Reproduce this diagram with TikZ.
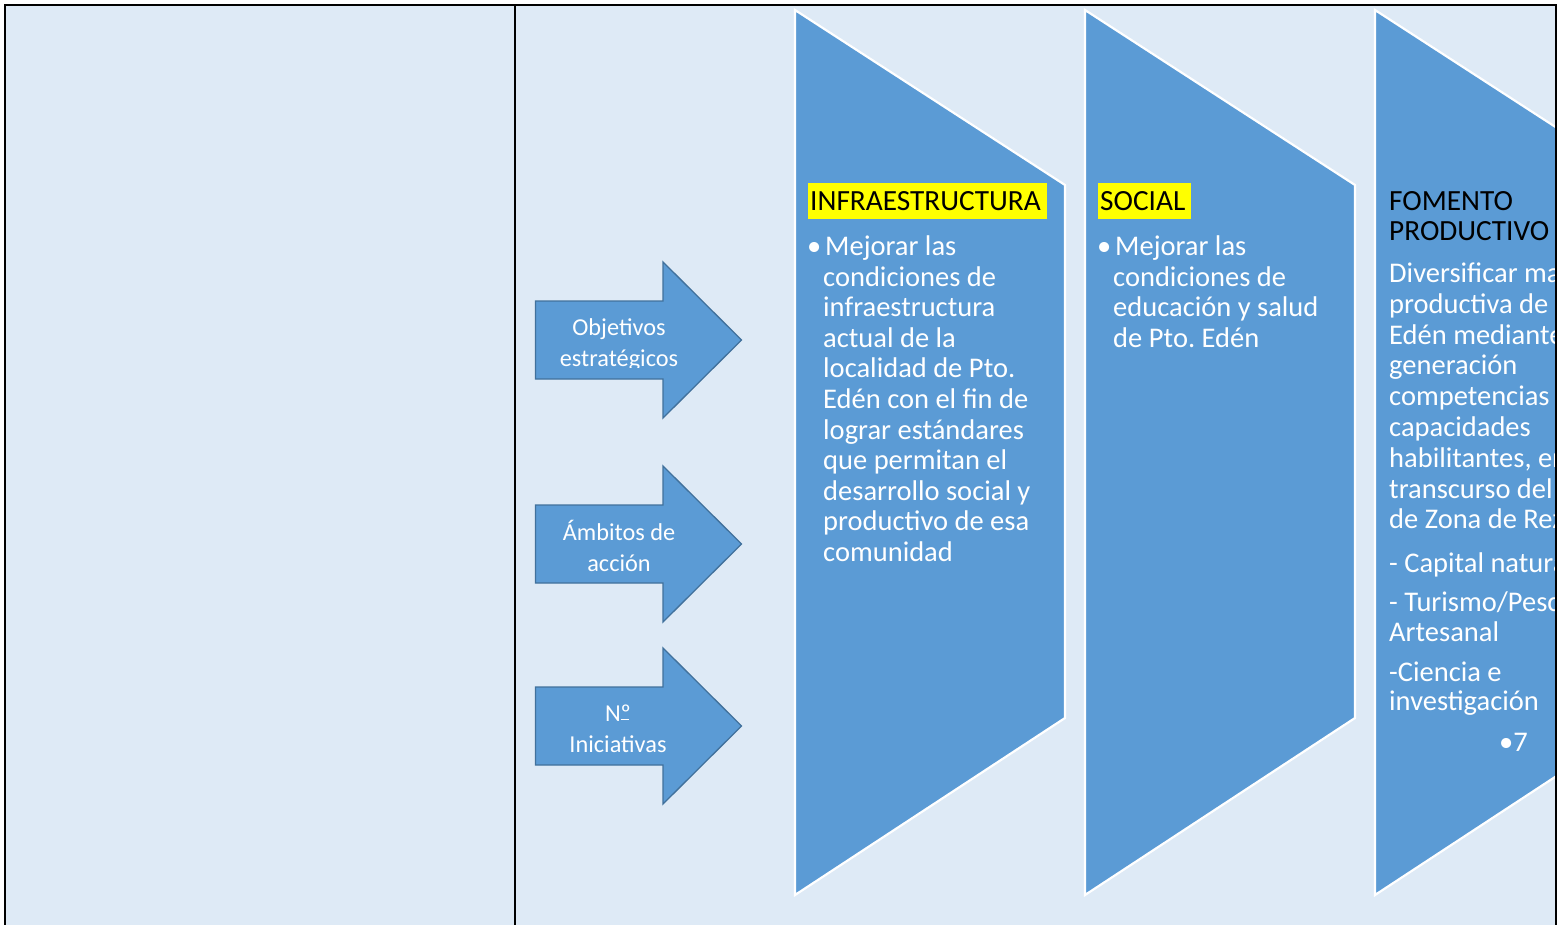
\documentclass[tikz,border=0pt]{standalone}
\usepackage{fontspec}
\setmainfont{Carlito}
\frenchspacing
\definecolor{bgblue}{HTML}{DEEAF6}
\definecolor{accent}{HTML}{5B9BD5}
\definecolor{arrowline}{HTML}{41719C}
\definecolor{hlyellow}{HTML}{FFFF00}
\newcommand{\bulletmark}{\leavevmode\llap{•\hspace{2pt}}\hspace*{2pt}}
\begin{document}
\begin{tikzpicture}[x=1pt,y=-1pt,
  chev/.style={fill=accent,draw=white,line width=2.2pt,line join=miter},
  blockarrow/.style={fill=accent,draw=arrowline,line width=1.3pt,line join=miter},
  arrowtext/.style={text=white,inner sep=0pt,anchor=base,font=\fontsize{24.3}{31}\selectfont\frenchspacing},
  bodytext/.style={text=white,inner sep=0pt,anchor=base west,font=\fontsize{28.5}{30.6}\selectfont\frenchspacing},
  headtext/.style={text=black,anchor=base west,font=\fontsize{29.3}{30.6}\selectfont},
  hl/.style={fill=hlyellow,inner xsep=2pt,inner ysep=0pt,text height=28pt,text depth=8pt},
  frame/.style={draw=black,line width=2.8pt}]

\useasboundingbox (0,0) rectangle (1565,925);
\fill[white] (0,0) rectangle (1565,925);
\fill[bgblue] (5,5) rectangle (1556,925);

% block arrows
\draw[blockarrow] (535.5,301) -- (663,301) -- (663,262) -- (741.5,340) -- (663,418) -- (663,379) -- (535.5,379) -- cycle;
\draw[blockarrow] (535.5,505) -- (663,505) -- (663,466) -- (741.5,544) -- (663,622) -- (663,583) -- (535.5,583) -- cycle;
\draw[blockarrow] (535.5,687) -- (663,687) -- (663,648) -- (741.5,726) -- (663,804) -- (663,765) -- (535.5,765) -- cycle;

\begin{scope}
  \clip (530,280) rectangle (745,367);
  \node[arrowtext] (objetivos) at (619,335) {\parbox[t]{200pt}{\centering Objetivos\\estratégicos}};
\end{scope}
\node[arrowtext] (ambitos) at (619,540) {\parbox[t]{200pt}{\centering Ámbitos de\\acción}};
\node[arrowtext] (iniciativas) at (618,721.5) {\parbox[t]{200pt}{\centering N\rlap{\raisebox{1.2pt}{\rule{8pt}{1.3pt}}}º\\Iniciativas}};

\begin{scope}
  \clip (5,5) rectangle (1556,925);
  % chevrons
  \draw[chev] (795,10) -- (1065,185) -- (1065,718) -- (795,895) -- cycle;
  \draw[chev] (1085,10) -- (1355,185) -- (1355,718) -- (1085,895) -- cycle;
  \draw[chev] (1375,10) -- (1645,185) -- (1645,718) -- (1375,895) -- cycle;

  % chevron 1
  \node[headtext,hl] (infrahead) at (808,211) {INFRAESTRUCTURA\hspace*{4pt}};
  \node[bodytext] (infrabody) at (823,255.6) {\parbox[t]{320pt}{\raggedright
    \bulletmark Mejorar las\\
    condiciones de\\
    infraestructura\\
    actual de la\\
    localidad de Pto.\\
    Edén con el fin de\\
    lograr estándares\\
    que permitan el\\
    desarrollo social y\\
    productivo de esa\\
    comunidad}};

  % chevron 2
  \node[headtext,hl] (socialhead) at (1098,211) {SOCIAL\hspace*{4pt}};
  \node[bodytext] (socialbody) at (1113,255.6) {\parbox[t]{320pt}{\raggedright
    \bulletmark Mejorar las\\
    condiciones de\\
    educación y salud\\
    de Pto. Edén}};

  % chevron 3
  \node[headtext,inner sep=0pt] (fomentohead) at (1389,211) {\parbox[t]{320pt}{\raggedright FOMENTO\\[-0.6pt]PRODUCTIVO}};
  \node[bodytext] (fomentobody) at (1389,282.4) {\parbox[t]{320pt}{\raggedright\baselineskip=30.8pt
    Diversificar matriz\\
    productiva de Pto.\\
    Edén mediante la\\
    generación\\
    competencias y\\
    capacidades\\
    habilitantes, en el\\
    transcurso del Plan\\
    de Zona de Rezago}};
  \node[bodytext] (capital) at (1389,572) {- Capital natural};
  \node[bodytext] (turismo) at (1389,611.5) {\parbox[t]{320pt}{\raggedright\baselineskip=30pt
    - Turismo/Pesca\\Artesanal}};
  \node[bodytext] (ciencia) at (1389,681.5) {\parbox[t]{320pt}{\raggedright\baselineskip=29pt
    -Ciencia e\\investigación}};
  \node[bodytext] (siete) at (1499,751.5) {•7};
\end{scope}

% frame
\draw[frame] (5,925) -- (5,5) -- (1556,5) -- (1556,925);
\draw[frame] (515,5) -- (515,925);
\end{tikzpicture}
\end{document}
